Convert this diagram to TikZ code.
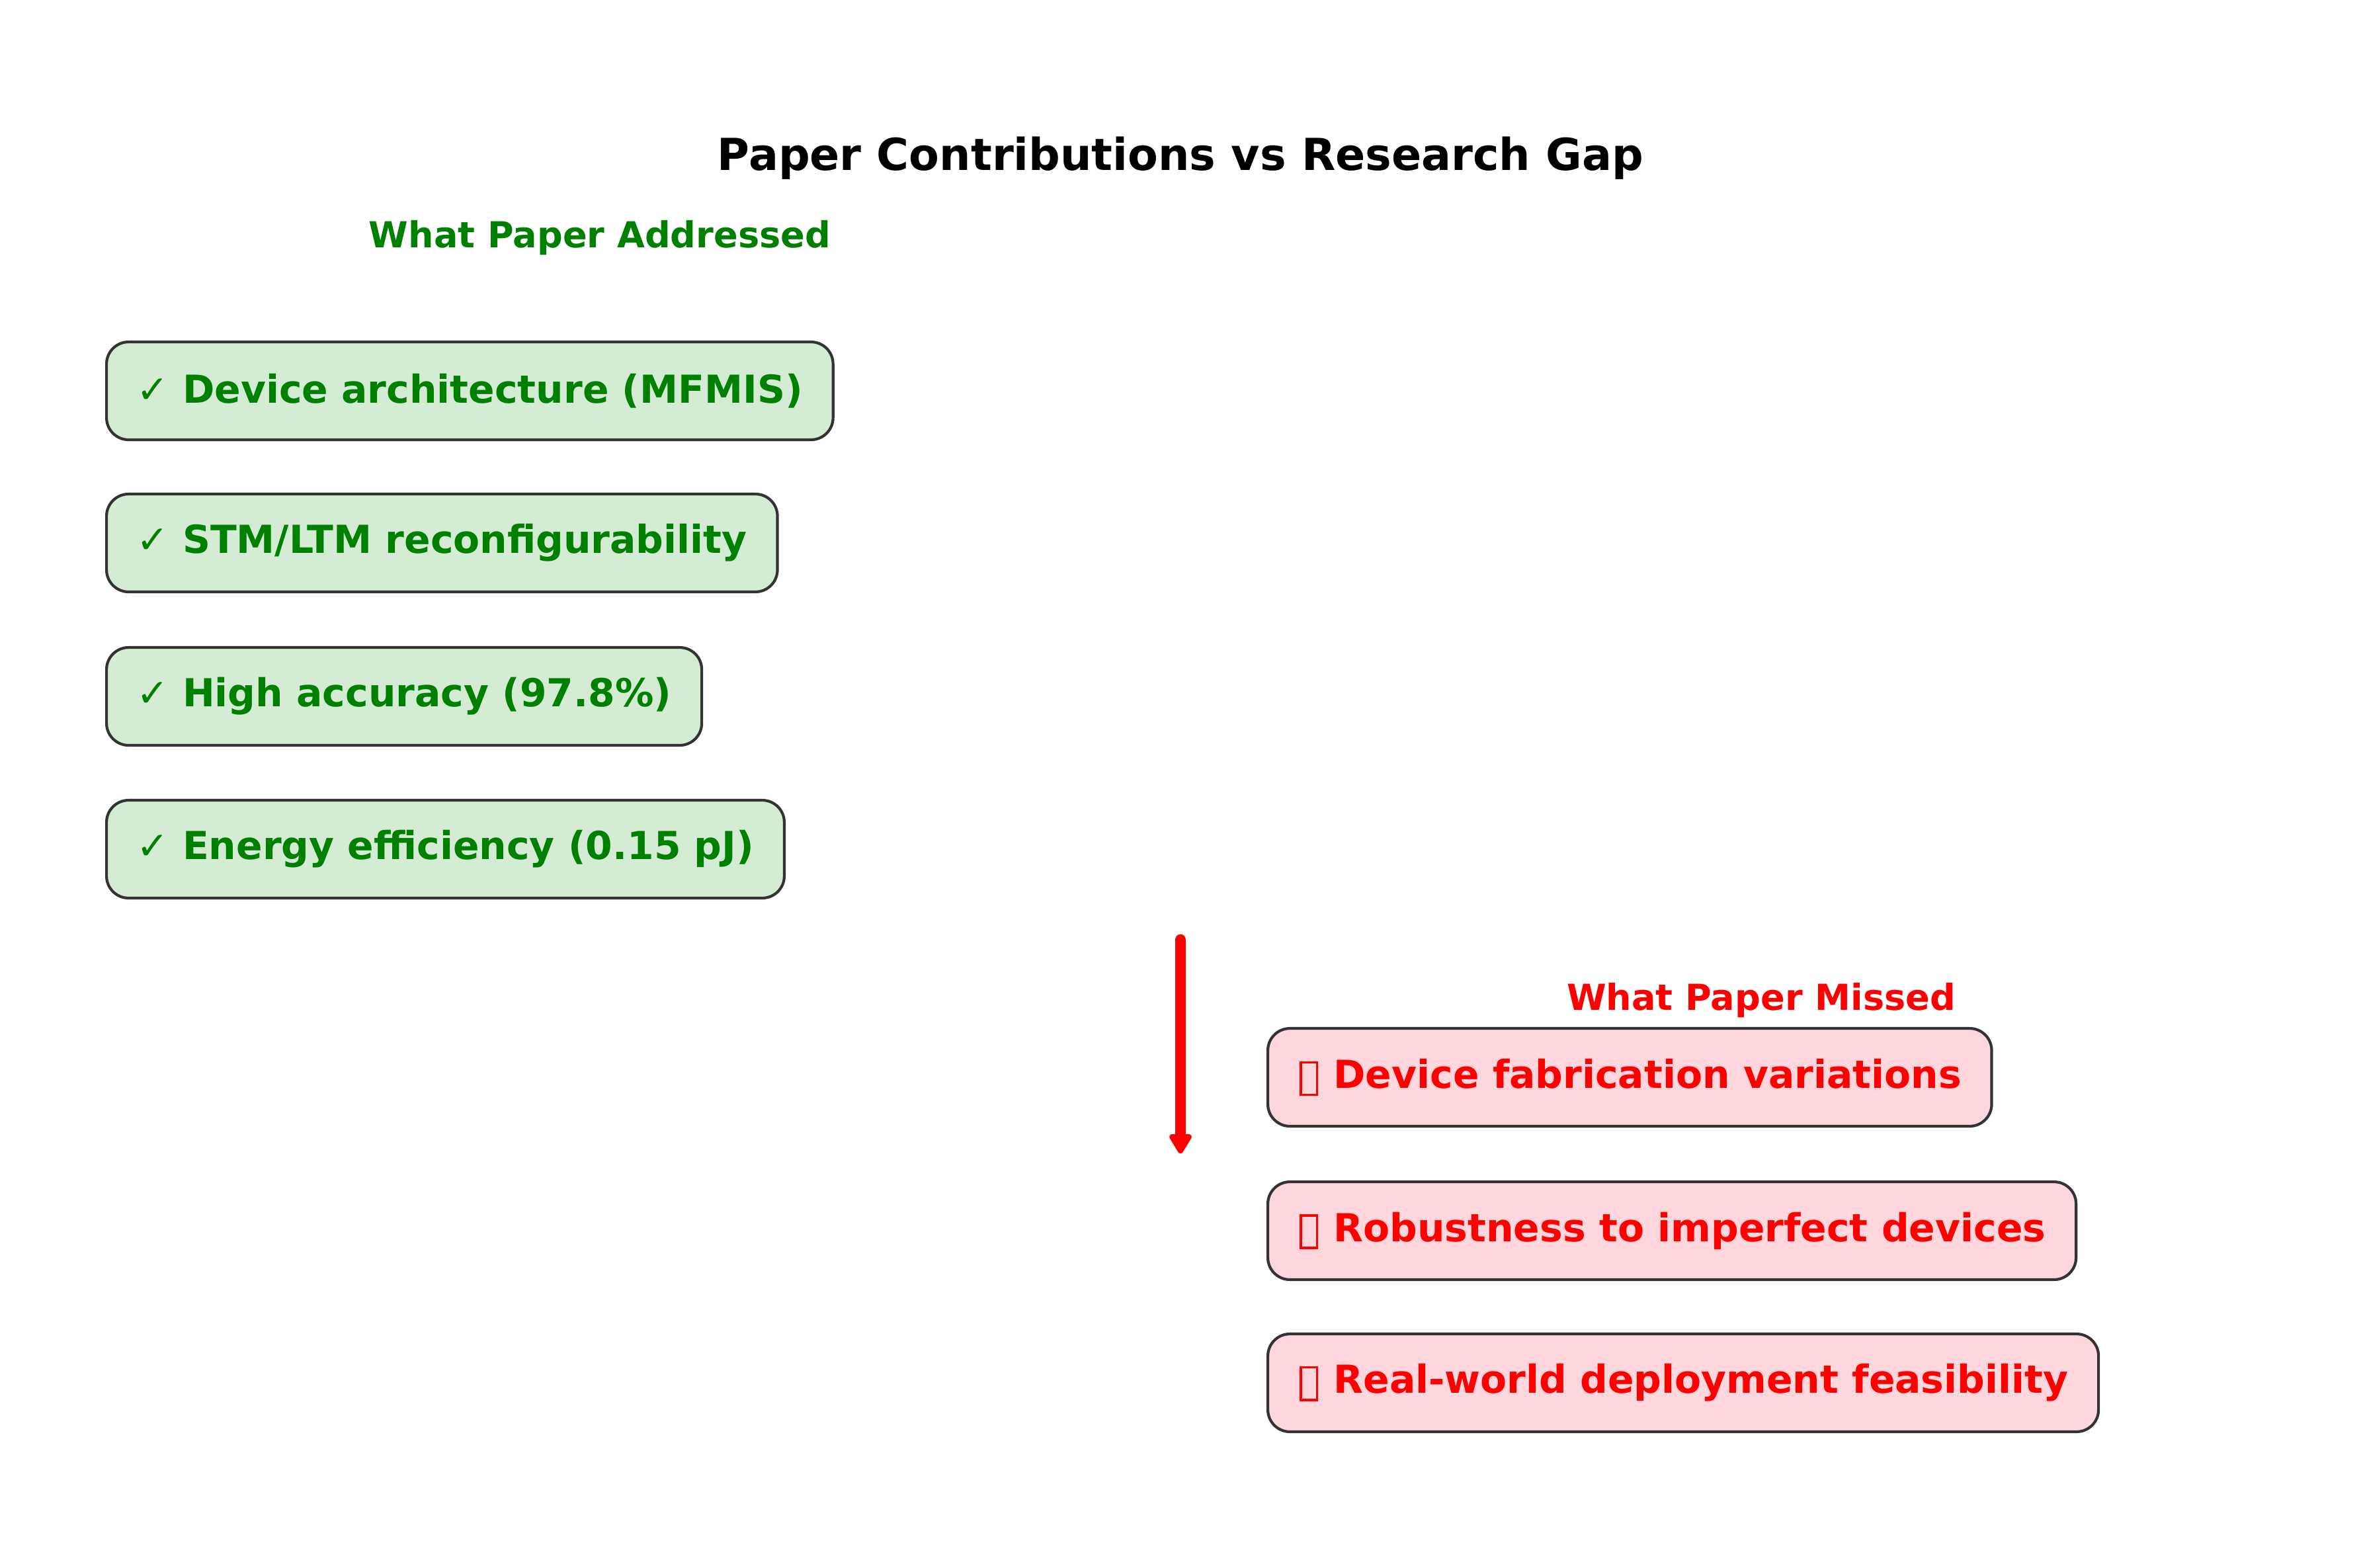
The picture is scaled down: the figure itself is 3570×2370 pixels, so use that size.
\documentclass[tikz,border=0pt]{standalone}
\usepackage{fontspec}
\setmainfont{DejaVu Sans}
\usetikzlibrary{arrows.meta}
\definecolor{okgreen}{HTML}{008000}
\definecolor{okfill}{HTML}{D4EBD4}
\definecolor{badred}{HTML}{FF0000}
\definecolor{badfill}{HTML}{FFD6DC}
\definecolor{edge}{HTML}{333333}
\newcommand{\checkglyph}{{\mdseries ✓}}
\newcommand{\tofubox}{\hspace{0.6pt}\raisebox{-2pt}{\setlength{\fboxsep}{0pt}\setlength{\fboxrule}{0.8pt}\fbox{\rule{0pt}{11pt}\hspace{5pt}}}\hspace{0.8pt}}
\tikzset{
  itembox/.style={draw=edge, line width=1pt, rounded corners=8pt, anchor=west,
    minimum height=35.5pt, inner xsep=11pt, inner ysep=0pt,
    font=\fontsize{14}{17}\selectfont\bfseries},
  gbox/.style={itembox, fill=okfill, text=okgreen},
  rbox/.style={itembox, fill=badfill, text=badred},
  heading/.style={font=\fontsize{13}{15}\selectfont\bfseries},
}
\begin{document}
\begin{tikzpicture}[x=0.24pt, y=-0.24pt]
\useasboundingbox (0,0) rectangle (3570,2370);
\node[font=\fontsize{16}{19}\selectfont\bfseries] (title) at (1785,239) {Paper Contributions vs Research Gap};
\node[heading, text=okgreen] (hadd) at (907,360) {What Paper Addressed};
\node[heading, text=badred] (hmiss) at (2663,1513) {What Paper Missed};

\node[gbox] (g1) at (159,591) {\checkglyph{} Device architecture (MFMIS)};
\node[gbox] (g2) at (159,821) {\checkglyph{} STM/LTM reconfigurability};
\node[gbox] (g3) at (159,1053) {\checkglyph{} High accuracy (97.8\%)};
\node[gbox] (g4) at (159,1284) {\checkglyph{} Energy efficiency (0.15 pJ)};

\node[rbox] (r1) at (1915,1629) {\tofubox{} Device fabrication variations};
\node[rbox] (r2) at (1915,1861) {\tofubox{} Robustness to imperfect devices};
\node[rbox] (r3) at (1915,2091) {\tofubox{} Real-world deployment feasibility};

\coordinate (astart) at (1785,1421);
\coordinate (aend) at (1785,1744);
\draw[badred, line width=4pt, line cap=round, -{Triangle[width=9pt, length=8pt, round]}] (astart) -- (aend);
\end{tikzpicture}
\end{document}
